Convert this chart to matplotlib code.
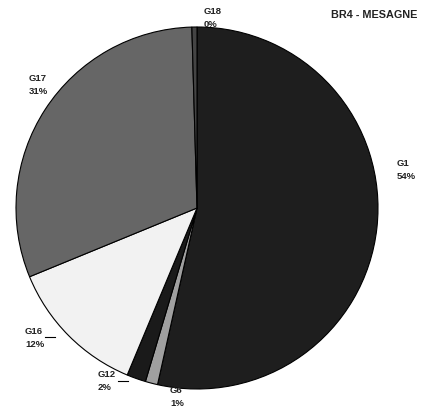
import matplotlib.pyplot as plt

plt.rcParams['font.family'] = ['Liberation Sans', 'DejaVu Sans']

# share of each group, clockwise from the top
groups = ['G1', 'G6', 'G12', 'G16', 'G17', 'G18']
shares = [53.5, 1.1, 1.7, 12.5, 30.75, 0.45]
colours = ['#1e1e1e', '#a0a0a0', '#1a1a1a', '#f2f2f2', '#666666', '#444444']

W, H = 429, 410
CX, CY, R = 197, 209, 181


def fpos(x, y):
    # pixel position -> figure fraction
    return x / W, 1 - y / H


fig = plt.figure(figsize=(W / 100, H / 100), dpi=100)
ax = fig.add_axes([0, 0, 1, 1])

wedges, _ = ax.pie(shares, colors=colours, startangle=90, counterclock=False,
                   radius=1, wedgeprops=dict(edgecolor='black', linewidth=0.8))
for w in wedges:
    w.set_zorder(3)

# pie() resets the limits, so place the pie afterwards
ax.set_aspect('auto')
ax.set_xlim(-CX / R, (W - CX) / R)
ax.set_ylim(-(H - CY) / R, CY / R)
ax.axis('off')

# label blocks: left x and vertical centre, in pixels
label_pos = {
    'G1': (397, 170),
    'G6': (170, 397),
    'G12': (98, 381),
    'G16': (25, 338),
    'G17': (29, 85),
    'G18': (204, 18),
}
for name, val in zip(groups, shares):
    x, y = label_pos[name]
    fx, fy = fpos(x, y)
    t = fig.text(fx, fy, f"{name}\n{val:.0f}%", ha='left', va='center',
                 fontsize=6.8, fontweight='bold', color='#222222',
                 linespacing=1.45)
    if name == 'G6':
        t.set_zorder(1)

# short leader lines next to the small-slice labels
for x0, x1, y in [(45, 55, 338), (118, 128, 382)]:
    a, b = fpos(x0, y)
    c, _ = fpos(x1, y)
    fig.add_artist(plt.Line2D([a, c], [b, b], color='black', lw=0.8))

tx, ty = fpos(417, 15)
fig.text(tx, ty, "BR4 - MESAGNE", ha='right', va='center',
         fontsize=7.8, fontweight='bold', color='#222222')

fig.savefig('out.png', dpi=100)
